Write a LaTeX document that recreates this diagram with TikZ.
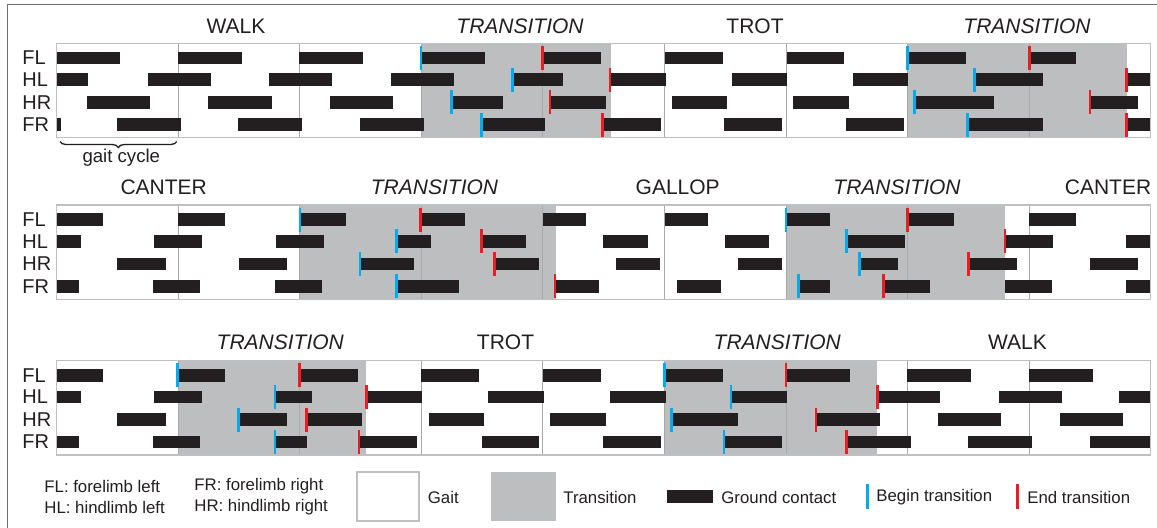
\documentclass[tikz,border=0pt]{standalone}
\usepackage{fontspec}
\setmainfont{Liberation Sans}
\usetikzlibrary{decorations.pathreplacing}
\definecolor{barc}{HTML}{231F20}
\definecolor{transc}{HTML}{BCBEC0}
\definecolor{bluec}{HTML}{00AEEF}
\definecolor{redc}{HTML}{ED1C24}
\definecolor{framec}{HTML}{6D6E71}
\definecolor{panelc}{HTML}{BFC0C2}
\definecolor{cycc}{HTML}{A7A9AC}
\definecolor{textc}{HTML}{231F20}
\tikzset{
  title/.style={font=\fontsize{10.5}{12}\selectfont, text=textc, inner sep=0pt},
  ititle/.style={title, font=\fontsize{10.5}{12}\selectfont\itshape},
  limb/.style={font=\fontsize{10}{11}\selectfont, text=textc, anchor=west, inner sep=0pt},
  leg/.style={font=\fontsize{8.4}{10}\selectfont, text=textc, anchor=west, inner sep=0pt},
  bluem/.style={draw=bluec, line width=1.35pt},
  redm/.style={draw=redc, line width=1.35pt},
  cyc/.style={draw=cycc, line width=0.5pt},
  panelb/.style={draw=panelc, line width=0.65pt},
}
\newcommand\limbbars[2]{\foreach \a/\b in {#2} {\fill[barc] (\a,#1-6.35) rectangle (\b,#1+6.35);}}
\newcommand\bmk[2]{\draw[bluem] (#1,#2-12) -- (#1,#2+12);}
\newcommand\rmk[2]{\draw[redm] (#1,#2-12) -- (#1,#2+12);}
\newcommand\gpanel[5]{% #1 top, #2-#3 gray 1, #4-#5 gray 2
  \fill[white] (56.7,#1) rectangle (1150.7,#1+94.3);
  \fill[transc] (#2,#1) rectangle (#3,#1+94.3);
  \fill[transc] (#4,#1) rectangle (#5,#1+94.3);
  \foreach \k in {1,...,8} {\draw[cyc] (56.7+121.55*\k,#1) -- (56.7+121.55*\k,#1+94.3);}
}
\begin{document}
\begin{tikzpicture}[x=0.5pt,y=-0.5pt]
\useasboundingbox (0,0) rectangle (1157,527);
\fill[white] (0,0) rectangle (1157,527);
\draw[framec, line width=0.7pt] (7.5,530) -- (7.5,4.7) -- (1160,4.7);

% ================= ROW 1 =================
\gpanel{43.3}{421.3}{610.7}{907.6}{1126.7}
\limbbars{58}{56.7/120, 178.3/241.7, 299.3/363.3, 421/485, 542.7/601, 665/722.7, 786.7/844, 907.7/965.7, 1029.3/1076}
\limbbars{79.6}{56.7/88.3, 148.3/210.7, 269.3/332.3, 390.7/454, 512.7/563.3, 610/665.7, 731.7/786.7, 853.3/908.3, 974.3/1043.3, 1126.7/1150.7}
\limbbars{102.3}{87.3/150, 208.3/271.7, 330/393.3, 451.7/502.7, 550/605.7, 671.7/727.3, 793.3/849, 914.3/994, 1090/1138.3}
\limbbars{124.6}{56.7/61, 116.7/181, 238.3/302.3, 360/424, 481.7/545, 602.3/661, 724/782.3, 846/904, 967.7/1043.3, 1126.7/1150.7}
\draw[panelb] (56.7,43.3) rectangle (1150.7,137.6);
\bmk{421}{58}\bmk{512.7}{79.6}\bmk{451.7}{102.3}\bmk{481.7}{124.6}
\bmk{907.7}{58}\bmk{974.3}{79.6}\bmk{914.3}{102.3}\bmk{967.7}{124.6}
\rmk{542.7}{58}\rmk{610}{79.6}\rmk{550}{102.3}\rmk{602.3}{124.6}
\rmk{1029.3}{58}\rmk{1126.7}{79.6}\rmk{1090}{102.3}\rmk{1126.7}{124.6}
\node[title] (w1) at (236,25.8) {WALK};
\node[ititle] (tr1) at (520,25.8) {TRANSITION};
\node[title] (tt1) at (755,25.8) {TROT};
\node[ititle] (tr2) at (1027,25.8) {TRANSITION};
\node[limb] (fl1) at (22,58) {FL};
\node[limb] (hl1) at (22,79.6) {HL};
\node[limb] (hr1) at (22,102.3) {HR};
\node[limb] (fr1) at (22,124.6) {FR};
\draw[decorate, decoration={brace, mirror, amplitude=3pt}, line width=0.65pt, textc] (60,141.5) -- (176.7,141.5);
\node[font=\fontsize{9.3}{11}\selectfont, text=textc, inner sep=0pt] (gc) at (121.3,157.5) {gait cycle};

% ================= ROW 2 =================
\gpanel{205}{299.8}{555.5}{786}{1005}
\limbbars{219.7}{56.7/103.3, 177.7/225, 300/346, 421/465, 543.3/586, 665/708.3, 786/830, 907.7/954, 1029.3/1076}
\limbbars{241.3}{56.7/81, 154/202.3, 276/324, 396.7/430.7, 481.7/526, 603.3/647.7, 725/769.3, 846.7/905, 1005/1053.3, 1126/1150.7}
\limbbars{264}{117.3/166, 239.3/287.3, 360/414, 494.3/538.7, 616/660, 737.7/781.7, 859.3/898.3, 968.3/1016.7, 1090/1138.3}
\limbbars{286.3}{56.7/78.7, 153.3/200.3, 275/322, 396.7/459, 555/598.7, 676.7/720.7, 798.3/830, 883.3/930, 1005/1051.7, 1126/1150.7}
\draw[panelb] (56.7,205) rectangle (1150.7,299.3);
\bmk{300}{219.7}\bmk{396.7}{241.3}\bmk{360}{264}\bmk{396.7}{286.3}
\bmk{786}{219.7}\bmk{846.7}{241.3}\bmk{859.3}{264}\bmk{798.3}{286.3}
\rmk{420.7}{219.7}\rmk{481.7}{241.3}\rmk{494.3}{264}\rmk{555}{286.3}
\rmk{907.7}{219.7}\rmk{1005}{241.3}\rmk{968.3}{264}\rmk{883.3}{286.3}
\node[title] (c1) at (163.7,187) {CANTER};
\node[ititle] (tr3) at (434.5,187) {TRANSITION};
\node[title] (g1) at (677.7,187) {GALLOP};
\node[ititle] (tr4) at (897,187) {TRANSITION};
\node[title] (c2) at (1108,187) {CANTER};
\node[limb] (fl2) at (22,219.7) {FL};
\node[limb] (hl2) at (22,241.3) {HL};
\node[limb] (hr2) at (22,264) {HR};
\node[limb] (fr2) at (22,286.3) {FR};

% ================= ROW 3 =================
\gpanel{360.7}{178.3}{365.7}{664.4}{876.7}
\limbbars{375.4}{56.7/103.3, 178/225, 299.3/357.7, 421/479.3, 543.3/601, 664.3/722.7, 786/850, 907.3/971, 1029.3/1092.7}
\limbbars{397}{56.7/81, 154/202.3, 275/311.7, 366.7/421.7, 488.3/544, 610/665.7, 731/787.3, 877.3/940, 999.3/1062.3, 1119.3/1150.7}
\limbbars{419.7}{117.3/166, 238.3/287.3, 306.7/362.3, 429/484, 550/605.7, 671.7/737.7, 816/880, 938.3/1001, 1060/1122.7}
\limbbars{442}{56.7/78.7, 153.3/200.3, 275/307, 359/417.3, 481.7/539, 602.7/661, 724/781.7, 846.7/910.7, 968.3/1031.7, 1090/1150.7}
\draw[panelb] (56.7,360.7) rectangle (1150.7,455);
\bmk{177.7}{375.4}\bmk{275}{397}\bmk{238.3}{419.7}\bmk{275}{442}
\bmk{664.3}{375.4}\bmk{731}{397}\bmk{671.7}{419.7}\bmk{724}{442}
\rmk{299.3}{375.4}\rmk{366.7}{397}\rmk{306.7}{419.7}\rmk{359}{442}
\rmk{786}{375.4}\rmk{877.3}{397}\rmk{816}{419.7}\rmk{846.7}{442}
\node[ititle] (tr5) at (280.3,342.5) {TRANSITION};
\node[title] (tt2) at (505.5,342.5) {TROT};
\node[ititle] (tr6) at (777.3,342.5) {TRANSITION};
\node[title] (w2) at (1017.5,342.5) {WALK};
\node[limb] (fl3) at (22,375.4) {FL};
\node[limb] (hl3) at (22,397) {HL};
\node[limb] (hr3) at (22,419.7) {HR};
\node[limb] (fr3) at (22,442) {FR};

% ================= LEGEND =================
\node[leg] (lfl) at (44,486.5) {FL: forelimb left};
\node[leg] (lhl) at (44,507) {HL: hindlimb left};
\node[leg] (lfr) at (194,486.5) {FR: forelimb right};
\node[leg] (lhr) at (194,507) {HR: hindlimb right};
\draw[panelc, line width=0.6pt, fill=white] (357,472) rectangle (419,521);
\node[leg] (lg) at (427.5,497) {Gait};
\fill[transc] (491,472) rectangle (556,521);
\node[leg] (lt) at (563,497) {Transition};
\fill[barc] (666.6,490) rectangle (713.3,502.7);
\node[leg] (lgc) at (721,497) {Ground contact};
\draw[bluem] (867.7,484) -- (867.7,509);
\node[leg] (lbt) at (876,497) {Begin transition};
\draw[redm] (1017.7,484) -- (1017.7,509);
\node[leg] (let) at (1027,497) {End transition};
\end{tikzpicture}
\end{document}
